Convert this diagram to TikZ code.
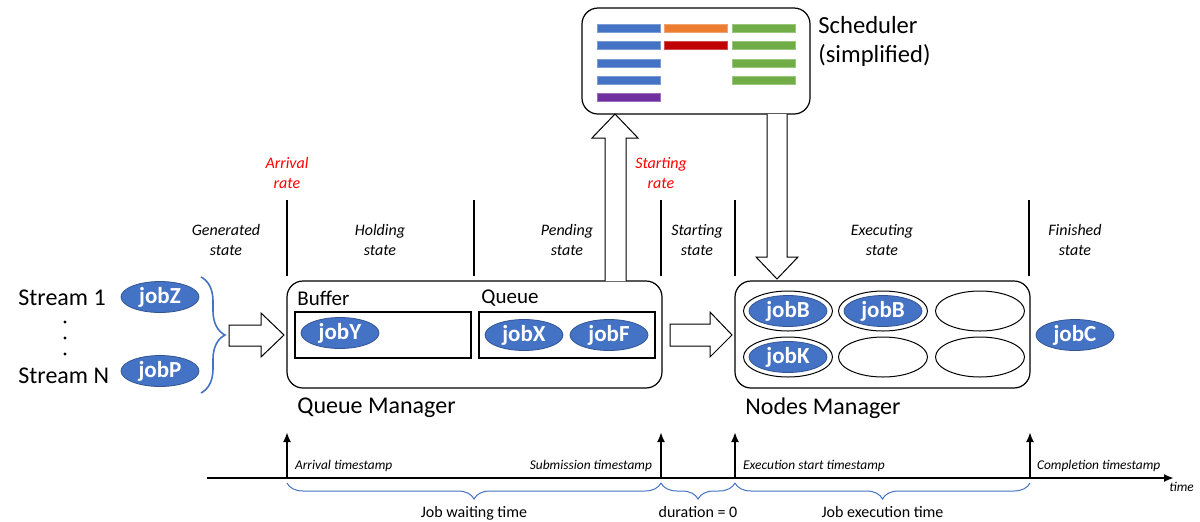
\documentclass[tikz,border=0pt]{standalone}
\usepackage{fontspec}
\setmainfont{Carlito}
\usetikzlibrary{shapes.geometric,decorations.pathreplacing,arrows.meta,positioning}
\definecolor{jobblue}{HTML}{4472C4}
\definecolor{barblue}{HTML}{4472C4}
\definecolor{barorange}{HTML}{ED7D31}
\definecolor{bargreen}{HTML}{70AD47}
\definecolor{barred}{HTML}{C00000}
\definecolor{barpurple}{HTML}{7030A0}

\begin{document}
\begin{tikzpicture}[x=0.5pt,y=-0.5pt,
  job/.style={ellipse, fill=jobblue, draw=jobblue!75!black, text=white,
    font=\fontsize{11.5}{13}\selectfont\bfseries, minimum width=39pt, minimum height=15.5pt, inner sep=0pt},
  slot/.style={ellipse, draw, line width=0.5pt, minimum width=44.5pt, minimum height=20pt, inner sep=0pt},
  manager/.style={draw, line width=0.6pt, rounded corners=8pt, inner sep=0pt},
  holder/.style={draw, line width=0.6pt, inner sep=0pt, minimum height=23pt, minimum width=88pt},
  state/.style={font=\fontsize{8}{10}\selectfont\itshape, align=center},
  rate/.style={state, text=red},
  stamp/.style={font=\fontsize{6.7}{8}\selectfont\itshape},
  blockarrow/.style={draw, fill=white, line width=0.5pt, line join=miter},
  bar/.style={draw=#1!70!white, fill=#1, line width=0.3pt},
  sep/.style={line width=0.8pt},
  span/.style={draw=jobblue, line width=0.5pt, decorate, decoration={brace, amplitude=#1}},
  big/.style={font=\fontsize{12}{14}\selectfont},
  mid/.style={font=\fontsize{10.5}{12}\selectfont}]
\useasboundingbox (0,0) rectangle (1200,521);

% scheduler
\node[manager, minimum width=114pt, minimum height=53pt] (sched) at (696,61) {};
\foreach \col/\row/\c in {0/0/barblue,0/1/barblue,0/2/barblue,0/3/barblue,0/4/barpurple,
    1/0/barorange,1/1/barred,2/0/bargreen,2/1/bargreen,2/2/bargreen,2/3/bargreen}
  \draw[bar=\c] (597+67.5*\col,24+17.4*\row) rectangle ++(63,8);
\node[font=\fontsize{12.3}{14.5}\selectfont, anchor=north west, align=left, inner sep=0pt] (schedlbl) at (818,16) {Scheduler\\(simplified)};

% states
\node[rate] (arrrate) at (287,173) {Arrival\\rate};
\node[rate] (startrate) at (661,173) {Starting\\rate};
\node[state] (gen) at (226,240) {Generated\\state};
\node[state] (hold) at (380,240) {Holding\\state};
\node[state] (pend) at (567,240) {Pending\\state};
\node[state] (start) at (697,240) {Starting\\state};
\node[state] (exec) at (882,240) {Executing\\state};
\node[state] (fin) at (1075,240) {Finished\\state};
\foreach \x in {287,474,661,735,1029}
  \draw[sep] (\x,200) -- (\x,276);

% streams
\node[big, anchor=west, inner sep=0pt] (s1) at (18,298) {Stream 1};
\node[big, anchor=west, inner sep=0pt] (sN) at (18,376) {Stream N};
\foreach \y in {322,338,354}
  \fill (65,\y) circle (0.8pt);
\node[job] (jobZ) at (160,297) {jobZ};
\node[job] (jobP) at (160,371) {jobP};
\draw[span=12pt, line width=0.8pt] (201,277) -- (201,393);

% queue manager
\node[manager, minimum width=187.5pt, minimum height=53.5pt] (qm) at (474.5,334.5) {};
\node[mid, anchor=west, inner sep=0pt] (buflbl) at (297,298) {Buffer};
\node[mid, anchor=west, inner sep=0pt] (queuelbl) at (481,298) {Queue};
\node[holder] (buffer) at (383,335) {};
\node[holder] (queue) at (567,335) {};
\node[job] (jobY) at (340,333) {jobY};
\node[job] (jobX) at (524,335) {jobX};
\node[job] (jobF) at (609,335) {jobF};
\node[big, anchor=west, inner sep=0pt] (qmlbl) at (297,408) {Queue Manager};

% nodes manager
\node[manager, minimum width=147.5pt, minimum height=53.5pt] (nm) at (882.5,334.5) {};
\node[slot] (n1) at (788,311) {};
\node[slot] (n2) at (883,311) {};
\node[slot] (n3) at (980,311) {};
\node[slot] (n4) at (788,357) {};
\node[slot] (n5) at (883,357) {};
\node[slot] (n6) at (980,357) {};
\node[job] at (n1) {jobB};
\node[job] at (n2) {jobB};
\node[job] at (n4) {jobK};
\node[big, anchor=west, inner sep=0pt] (nmlbl) at (745,408) {Nodes Manager};
\node[job] (jobC) at (1075,335) {jobC};

% block arrows
\draw[blockarrow] (229,325) -- (261,325) -- (261,313) -- (284,335) -- (261,357) -- (261,346) -- (229,346) -- cycle;
\draw[blockarrow] (670,324) -- (710,324) -- (710,312) -- (732,335) -- (710,357) -- (710,346) -- (670,346) -- cycle;
\draw[blockarrow] (605,281) -- (605,138) -- (592,138) -- (615,114) -- (638,138) -- (626,138) -- (626,281);
\draw[blockarrow] (767,114) -- (767,257) -- (756,257) -- (777,279) -- (798,257) -- (787,257) -- (787,114);

% timeline
\coordinate (tstart) at (207,478);
\coordinate (tend) at (1174,478);
\coordinate (tA) at (287,478);
\coordinate (tS) at (661,478);
\coordinate (tE) at (735,478);
\coordinate (tC) at (1030,478);
\draw[line width=1.3pt, -{Latex[length=5pt,width=4pt]}] (tstart) -- (tend);
\foreach \t in {tA,tS,tE,tC}
  \draw[line width=1.3pt, -{Latex[length=5pt,width=4pt]}] (\t) -- ++(0,-46);
\node[stamp, anchor=west] (stA) at (288,466) {Arrival timestamp};
\node[stamp, anchor=east] (stS) at (659,466) {Submission timestamp};
\node[stamp, anchor=west] (stE) at (736,466) {Execution start timestamp};
\node[stamp, anchor=west] (stC) at (1030,466) {Completion timestamp};
\node[stamp, anchor=west, inner sep=0pt] (timelbl) at (1169,487) {time};
\draw[span=8pt] ([yshift=-2.5pt]tS) -- ([yshift=-2.5pt]tA) node[midway, below=8pt, font=\fontsize{8}{10}\selectfont] (wait) {Job waiting time};
\draw[span=8pt] ([yshift=-2.5pt]tE) -- ([yshift=-2.5pt]tS) node[midway, below=8pt, font=\fontsize{8}{10}\selectfont] (dur) {duration = 0};
\draw[span=8pt] ([yshift=-2.5pt]tC) -- ([yshift=-2.5pt]tE) node[midway, below=8pt, font=\fontsize{8}{10}\selectfont] (run) {Job execution time};
\end{tikzpicture}
\end{document}
